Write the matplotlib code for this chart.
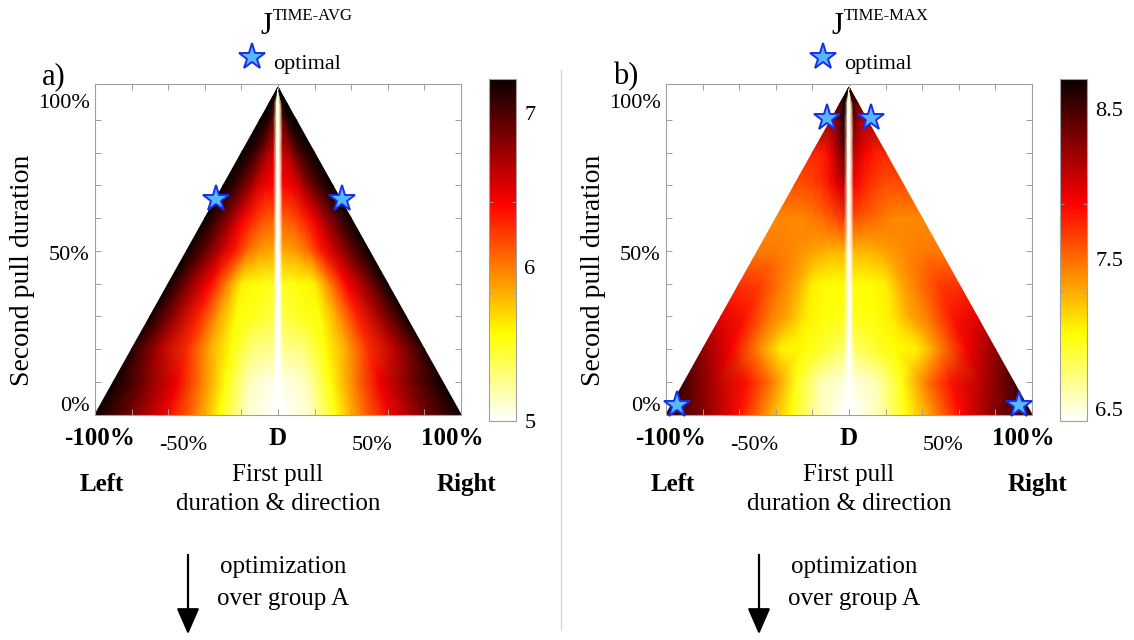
import numpy as np
import matplotlib
matplotlib.use("Agg")
import matplotlib.pyplot as plt

plt.rcParams['font.family'] = ['Liberation Serif', 'DejaVu Serif']

W, H = 1134, 640

# ---------------- data ----------------
# rows: second pull duration (fraction); columns: position from the centre line
# (shoulder of the white "D" line) out to the triangle edge, as a fraction
y_levels = [0.0, 0.1, 0.2, 0.3, 0.4, 0.5, 0.6, 0.7, 0.8, 0.9, 0.95, 1.0]
u_levels = [0.0, 0.15, 0.3, 0.45, 0.6, 0.8, 1.0]

# panel a: J TIME-AVG
a_stripe = [5.0, 5.0, 5.0, 5.0, 5.0, 5.0, 5.02, 5.04, 5.06, 5.08, 5.1, 5.12]
a_left = [
    [5.00, 5.12, 5.55, 6.05, 6.45, 6.88, 7.22],
    [5.05, 5.15, 5.55, 6.00, 6.45, 6.85, 7.22],
    [5.25, 5.30, 5.55, 5.85, 6.25, 6.65, 7.15],
    [5.40, 5.50, 5.55, 5.90, 6.30, 6.75, 7.20],
    [5.50, 5.55, 5.60, 6.00, 6.40, 6.80, 7.22],
    [5.85, 5.90, 6.05, 6.35, 6.60, 6.95, 7.22],
    [6.10, 6.15, 6.30, 6.45, 6.70, 7.00, 7.22],
    [6.40, 6.45, 6.55, 6.75, 6.90, 7.10, 7.22],
    [6.60, 6.65, 6.80, 6.95, 7.05, 7.15, 7.22],
    [6.95, 7.00, 7.10, 7.15, 7.20, 7.22, 7.22],
    [7.10, 7.15, 7.20, 7.22, 7.22, 7.22, 7.22],
    [7.22, 7.22, 7.22, 7.22, 7.22, 7.22, 7.22],
]
a_right = a_left
a_range = (5.0, 7.22)
a_cticks = [5, 6, 7]
a_stars_x = [-0.34, 0.35]
a_stars_y = [0.66, 0.66]

# panel b: J TIME-MAX
b_stripe = [6.42, 6.42, 6.43, 6.43, 6.44, 6.45, 6.45, 6.46, 6.47, 6.48, 6.5, 6.5]
b_left = [
    [6.42, 6.60, 7.00, 7.40, 7.85, 8.30, 8.60],
    [6.50, 6.60, 6.95, 7.45, 7.80, 8.10, 8.50],
    [6.75, 6.90, 7.00, 7.05, 7.40, 7.90, 8.25],
    [6.95, 6.98, 7.05, 7.30, 7.45, 7.80, 7.95],
    [7.00, 7.00, 7.05, 7.30, 7.45, 7.65, 7.70],
    [7.25, 7.25, 7.30, 7.35, 7.40, 7.45, 7.45],
    [7.70, 7.60, 7.50, 7.45, 7.40, 7.40, 7.40],
    [8.10, 7.95, 7.80, 7.70, 7.65, 7.60, 7.60],
    [8.40, 8.25, 8.05, 7.90, 7.80, 7.75, 7.75],
    [8.65, 8.55, 8.45, 8.35, 8.30, 8.25, 8.25],
    [8.70, 8.65, 8.60, 8.55, 8.50, 8.50, 8.50],
    [8.70, 8.70, 8.70, 8.70, 8.70, 8.70, 8.70],
]
b_right = [
    [6.42, 6.60, 7.00, 7.40, 7.85, 8.30, 8.60],
    [6.50, 6.60, 6.95, 7.45, 7.80, 8.10, 8.50],
    [6.75, 6.90, 7.00, 7.05, 7.40, 7.90, 8.25],
    [6.95, 6.98, 7.05, 7.30, 7.45, 7.80, 7.95],
    [7.00, 7.00, 7.05, 7.30, 7.45, 7.65, 7.70],
    [7.25, 7.25, 7.30, 7.35, 7.40, 7.45, 7.45],
    [7.60, 7.55, 7.50, 7.45, 7.40, 7.40, 7.40],
    [7.85, 7.80, 7.70, 7.65, 7.60, 7.60, 7.60],
    [8.10, 8.00, 7.90, 7.85, 7.80, 7.75, 7.75],
    [8.35, 8.30, 8.25, 8.20, 8.20, 8.20, 8.20],
    [8.50, 8.45, 8.40, 8.40, 8.40, 8.40, 8.40],
    [8.70, 8.70, 8.70, 8.70, 8.70, 8.70, 8.70],
]
b_range = (6.42, 8.70)
b_cticks = [6.5, 7.5, 8.5]
b_cticklabels = ['6.5', '7.5', '8.5']
b_stars_x = [-0.94, -0.12, 0.12, 0.93]
b_stars_y = [0.03, 0.905, 0.905, 0.03]

y_ticklabels = ['100%', '50%', '0%']
y_ticklabel_pos = [0.95, 0.485, 0.025]


def px(x, y):
    return x / W, 1 - y / H


def build_mesh(stripe, left, right):
    X, Y, C = [], [], []
    for i, yv in enumerate(y_levels):
        hw = 1.0 - yv
        w_sh = min(0.026, 0.45 * hw)
        w_core = min(0.007, 0.15 * hw)
        xs, cs = [], []
        for j in range(len(u_levels) - 1, -1, -1):
            u = u_levels[j]
            xs.append(-(w_sh + u * (hw - w_sh)))
            cs.append(left[i][j])
        xs += [-w_core, w_core]
        cs += [stripe[i], stripe[i]]
        for j, u in enumerate(u_levels):
            xs.append(w_sh + u * (hw - w_sh))
            cs.append(right[i][j])
        X.append(xs)
        Y.append([yv] * len(xs))
        C.append(cs)
    return np.array(X), np.array(Y), np.array(C)


fig = plt.figure(figsize=(W / 100, H / 100), dpi=100)
GRAY = '#a0a0a0'
STAR = dict(linestyle='none', marker='*', markersize=20,
            markerfacecolor='#55b8ff', markeredgecolor='#1a2ee8',
            markeredgewidth=1.4, clip_on=False)


def panel(x0, stripe, left, right, vrange, cax_x, cticks, cticklabels,
          sx, sy, letter, sup, ctick_minor):
    ax = fig.add_axes([x0 / W, 1 - 414.5 / H, 366 / W, 330.5 / H])
    X, Y, C = build_mesh(stripe, left, right)
    m = ax.pcolormesh(X, Y, C, shading='gouraud', cmap='hot_r',
                      vmin=vrange[0], vmax=vrange[1])
    ax.set_xlim(-1.0, 1.0)
    ax.set_ylim(0, 1.01)
    ax.set_xticks([-0.8, -0.6, -0.4, -0.2, 0, 0.2, 0.4, 0.6, 0.8])
    ax.set_yticks([0.1, 0.2, 0.3, 0.4, 0.5, 0.6, 0.7, 0.8, 0.9])
    ax.tick_params(direction='in', length=4, width=0.7, color=GRAY,
                   top=True, right=True, labelbottom=False, labelleft=False)
    for s in ax.spines.values():
        s.set_color(GRAY)
        s.set_linewidth(0.8)
    ax.plot(sx, sy, zorder=5, **STAR)
    # y tick labels
    for lab, yv in zip(y_ticklabels, y_ticklabel_pos):
        ax.text(-1.03, yv, lab, ha='right', va='center', fontsize=16,
                transform=ax.transData)
    # colorbar
    cax = fig.add_axes([cax_x / W, 1 - 421 / H, 27 / W, 342 / H])
    cb = fig.colorbar(m, cax=cax)
    cb.set_ticks(cticks)
    cb.set_ticklabels(cticklabels)
    cb.ax.tick_params(length=0, labelsize=16, pad=6)
    cb.ax.set_yticks(ctick_minor, minor=True)
    cb.ax.tick_params(which='minor', direction='in', length=3, color=GRAY,
                      left=True, right=True)
    cb.outline.set_edgecolor(GRAY)
    cb.outline.set_linewidth(0.8)

    cx = x0 + 183
    fig.text(*px(cx - 236, 84), letter, fontsize=22, ha='left', va='baseline')
    fig.text(*px(cx - 6, 34), 'J', fontsize=22, ha='right', va='baseline')
    fig.text(*px(cx - 5, 20), sup, fontsize=12, ha='left', va='baseline')
    # legend
    ax.plot([(cx - 26 - x0) / 183 - 1], [1.01 + 27 / 327], **STAR)
    fig.text(*px(cx - 5, 69), 'optimal', fontsize=16, ha='left',
             va='baseline')
    # bottom labels
    fig.text(*px(cx - 178, 445), '-100%', fontsize=18, fontweight='bold',
             ha='center', va='baseline')
    fig.text(*px(cx + 174, 445), '100%', fontsize=18, fontweight='bold',
             ha='center', va='baseline')
    fig.text(*px(cx, 445), 'D', fontsize=18, fontweight='bold',
             ha='center', va='baseline')
    fig.text(*px(cx - 95, 450), '-50%', fontsize=16, ha='center',
             va='baseline')
    fig.text(*px(cx + 94, 450), '50%', fontsize=16, ha='center',
             va='baseline')
    fig.text(*px(cx - 176, 491), 'Left', fontsize=18, fontweight='bold',
             ha='center', va='baseline')
    fig.text(*px(cx + 188, 491), 'Right', fontsize=18, fontweight='bold',
             ha='center', va='baseline')
    fig.text(*px(cx, 481), 'First pull', fontsize=18, ha='center',
             va='baseline')
    fig.text(*px(cx, 510), 'duration & direction', fontsize=18,
             ha='center', va='baseline')
    fig.text(*px(cx - 255, 270), 'Second pull duration', fontsize=20,
             rotation=90, ha='center', va='center')
    fig.text(*px(cx + 5, 573), 'optimization', fontsize=18, ha='center',
             va='baseline')
    fig.text(*px(cx + 5, 605), 'over group A', fontsize=18, ha='center',
             va='baseline')
    fig.patches.append(matplotlib.patches.FancyArrowPatch(
        px(cx - 90, 552), px(cx - 90, 637), transform=fig.transFigure,
        arrowstyle='-|>,head_length=0.8,head_width=0.35', color='black',
        linewidth=1.6, mutation_scale=20))
    return ax


panel(95, a_stripe, a_left, a_right, a_range, 489, a_cticks,
      [str(t) for t in a_cticks], a_stars_x, a_stars_y, 'a)', 'TIME-AVG',
      [5.84, 6.42])
panel(666, b_stripe, b_left, b_right, b_range, 1060, b_cticks,
      b_cticklabels, b_stars_x, b_stars_y, 'b)', 'TIME-MAX', [7.28, 7.87])

# separator line between panels
fig.add_artist(matplotlib.lines.Line2D([561 / W, 561 / W], [1 - 70 / H, 1 - 630 / H],
                                       transform=fig.transFigure,
                                       color='#d8d8d8', linewidth=1))

fig.savefig('out.png', dpi=100)
